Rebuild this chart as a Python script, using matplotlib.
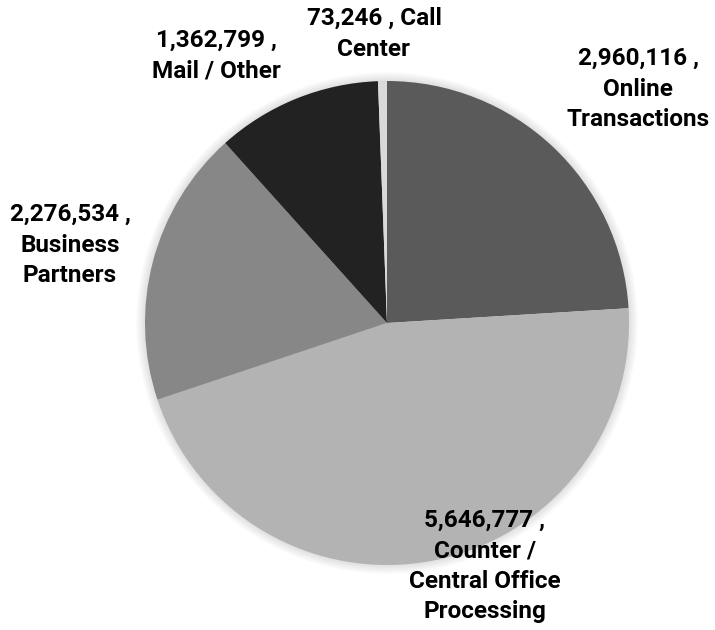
import matplotlib
matplotlib.use("Agg")
import matplotlib.pyplot as plt
from matplotlib.patches import Circle

categories = ["Online\nTransactions", "Counter /\nCentral Office\nProcessing",
              "Business\nPartners", "Mail / Other", "Call\nCenter"]
values = [2960116, 5646777, 2276534, 1362799, 73246]
colors = ["#5a5a5a", "#b3b3b3", "#878787", "#222222", "#d9d9d9"]

fig = plt.figure(figsize=(7.15, 6.3), dpi=100)
ax = fig.add_axes([0, 0, 1, 1])

cx, cy, r = 387, 630 - 323, 242

# soft shadow
for i in range(8):
    ax.add_patch(Circle((cx, cy), r + 0.5 + i * 1.2, color="black", alpha=0.015, lw=0, zorder=0))

wedges, _ = ax.pie(values, colors=colors, startangle=90, counterclock=False,
                   center=(cx, cy), radius=r, frame=True,
                   wedgeprops=dict(linewidth=0))
ax.set_xlim(0, 715)
ax.set_ylim(0, 630)
ax.set_aspect("equal")
ax.axis("off")

def fmt(v):
    return f"{v:,}"

labels = [
    (f"{fmt(values[0])} ,\n{categories[0]}", 638, 89),
    (f"{fmt(values[1])} ,\n{categories[1]}", 485, 566),
    (f"{fmt(values[2])} ,\n{categories[2]}", 70, 245),
    (f"{fmt(values[3])} ,\n{categories[3]}", 216, 56),
    (f"{fmt(values[4])} , {categories[4]}", 374, 34),
]
for text, px, py in labels:
    ax.text(px, 630 - py, text, ha="center", va="center", fontsize=17.5,
            fontweight="bold", family="Roboto", linespacing=1.42, color="black")

fig.savefig("out.png", dpi=100)
